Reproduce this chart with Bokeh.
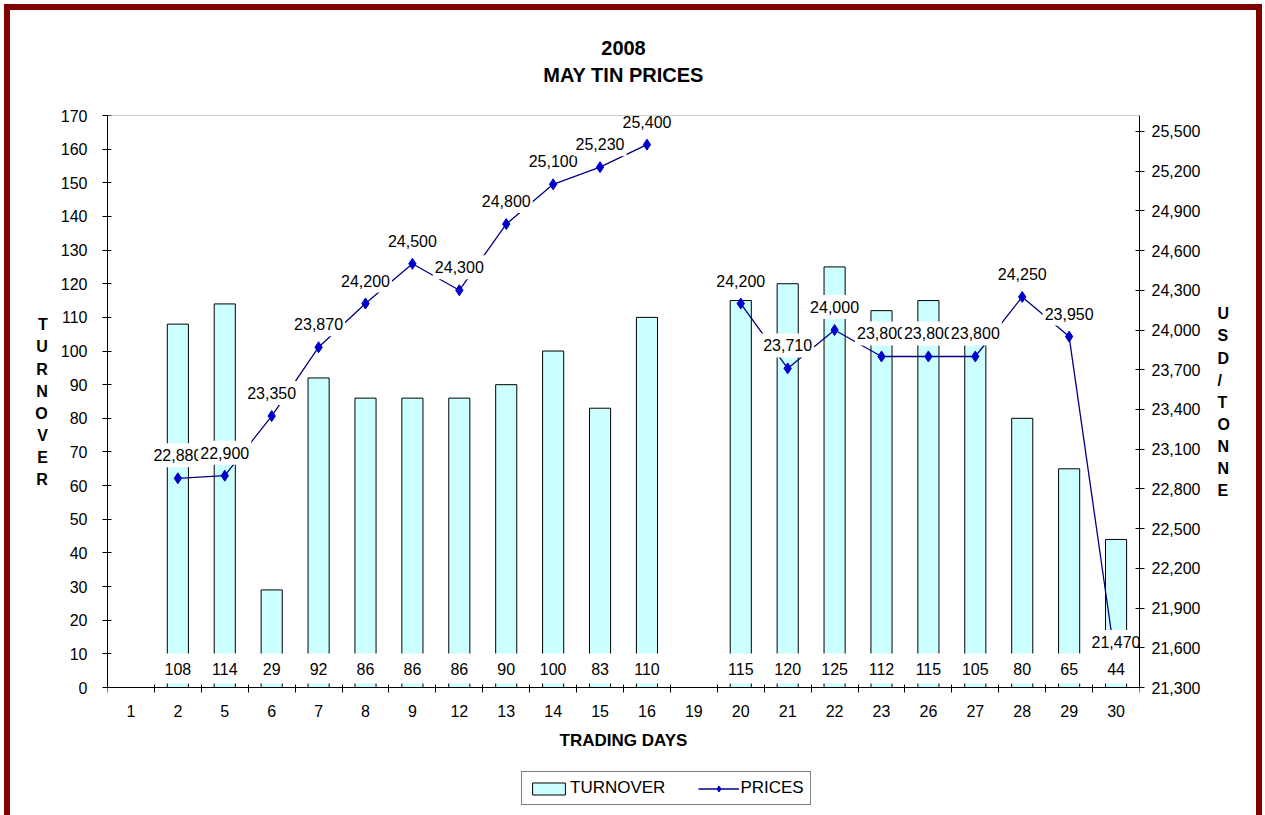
import math
from bokeh.plotting import figure
from bokeh.models import (ColumnDataSource, Range1d, LinearAxis, FixedTicker,
                          NumeralTickFormatter, Legend, LegendItem, Title, Span)
from bokeh.core.properties import value
from bokeh.embed import file_html
from bokeh.resources import INLINE

nan = float("nan")

# ---- data ----
days = ["1", "2", "5", "6", "7", "8", "9", "12", "13", "14", "15", "16",
        "19", "20", "21", "22", "23", "26", "27", "28", "29", "30"]
turnover = [nan, 108, 114, 29, 92, 86, 86, 86, 90, 100, 83, 110,
            nan, 115, 120, 125, 112, 115, 105, 80, 65, 44]
prices = [nan, 22880, 22900, 23350, 23870, 24200, 24500, 24300, 24800, 25100, 25230, 25400,
          nan, 24200, 23710, 24000, 23800, 23800, 23800, 24250, 23950, 21470]
left_ticks = list(range(0, 171, 10))
right_ticks = list(range(21300, 25501, 300))
LEFT_MIN, LEFT_MAX = 0, 170
RIGHT_MIN, RIGHT_MAX = 21300, 25620
left_title = "TURNOVER"
right_title = "USD/TONNE"

FONT = "Liberation Sans"

# ---- layout (canvas pixels) ----
W, H = 1258, 811
F_LEFT, F_RIGHT, F_TOP = 97, 1129, 105
ZERO_PX = 677          # where the value axes start
# frame reaches the canvas bottom; the x axis is pinned at 0 and the legend
# sits below it, inside the frame
left_lo = LEFT_MIN - (H - ZERO_PX) * (LEFT_MAX - LEFT_MIN) / (ZERO_PX - F_TOP)
right_lo = RIGHT_MIN - (H - ZERO_PX) * (RIGHT_MAX - RIGHT_MIN) / (ZERO_PX - F_TOP)
# blank trailing lines lift the stacked axis titles to the middle of the value axis
LIFT = "\n" * 6

x = list(range(1, len(days) + 1))

bar_src = ColumnDataSource(dict(
    x=[xi for xi, t in zip(x, turnover) if not math.isnan(t)],
    top=[t for t in turnover if not math.isnan(t)],
    lab=[str(int(t)) for t in turnover if not math.isnan(t)],
    zero=[LEFT_MIN for t in turnover if not math.isnan(t)],
))
price_line_src = ColumnDataSource(dict(x=x, y=prices))
price_pts_src = ColumnDataSource(dict(
    x=[xi for xi, v in zip(x, prices) if not math.isnan(v)],
    y=[v for v in prices if not math.isnan(v)],
    lab=["{:,}".format(int(v)) for v in prices if not math.isnan(v)],
))

p = figure(width=W, height=H, output_backend="svg", toolbar_location=None,
           title=None,
           x_range=Range1d(0.5, len(days) + 0.5),
           y_range=Range1d(left_lo, LEFT_MAX),
           min_border_left=F_LEFT, min_border_right=W - F_RIGHT,
           min_border_top=F_TOP, min_border_bottom=0,
           background_fill_color="white", border_fill_color="white")
p.extra_y_ranges = {"price": Range1d(right_lo, RIGHT_MAX)}
p.xgrid.visible = False
p.ygrid.visible = False
p.outline_line_color = None
p.styles = {"border-top": "6px solid #800000",
            "border-left": "6px solid #800000",
            "border-right": "6px solid #800000",
            "margin-left": "4px", "margin-top": "4px",
            "overflow": "hidden"}

# top border of the plot area
p.add_layout(Span(location=LEFT_MAX, dimension="width",
                  line_color="#A0A0A0", line_width=1))

# titles (a blank spacer panel keeps the two title lines close together)
spacer = Title(text=" ", align="center", standoff=0,
               text_font=FONT, text_font_size="20px")
p.add_layout(spacer, "above")
t1 = Title(text="MAY TIN PRICES", align="center", vertical_align="top",
           standoff=8, text_font=FONT, text_font_size="20px",
           text_font_style="bold", text_color="black")
p.add_layout(t1, "above")
t2 = Title(text="2008", align="center", vertical_align="bottom", standoff=10,
           text_font=FONT, text_font_size="20px", text_font_style="bold",
           text_color="black")
p.add_layout(t2, "above")

# bars
bars = p.vbar(x="x", top="top", bottom=LEFT_MIN, width=0.45, source=bar_src,
              fill_color="#CCFFFF", line_color="black", line_width=1)

# price line + markers
pline = p.line(x="x", y="y", source=price_line_src, y_range_name="price",
               line_color="#000080", line_width=1.3)
pmark = p.scatter(x="x", y="y", source=price_pts_src, y_range_name="price",
                  marker="diamond", size=11, fill_color="#0000CC",
                  line_color="#0000CC")

# price labels
p.text(x="x", y="y", text="lab", source=price_pts_src, y_range_name="price",
       y_offset=-23, text_align="center", text_baseline="middle",
       text_font=value(FONT), text_font_size="16px", text_color="black",
       background_fill_color="white", border_line_color=None,
       padding=dict(x=2, y=6))

# bar value labels
p.text(x="x", y="zero", text="lab", source=bar_src,
       y_offset=-19, text_align="center", text_baseline="middle",
       text_font=value(FONT), text_font_size="16px", text_color="black",
       background_fill_color="white", border_line_color=None,
       padding=dict(x=3, y=9))

# x axis, pinned at the zero line
xa = p.xaxis[0]
xa.fixed_location = LEFT_MIN
xa.ticker = FixedTicker(ticks=x, minor_ticks=[xi - 0.5 for xi in x] + [x[-1] + 0.5])
xa.major_label_overrides = {xi: d for xi, d in zip(x, days)}
xa.major_tick_line_color = None
xa.major_tick_in = 0
xa.major_tick_out = 0
xa.minor_tick_line_color = "black"
xa.minor_tick_in = 3
xa.minor_tick_out = 5
xa.major_label_standoff = 12
xa.major_label_text_font = FONT
xa.major_label_text_font_size = "16px"
xa.major_label_text_color = "black"
xa.axis_line_color = "black"
xa.axis_label = "TRADING DAYS"
xa.axis_label_text_font = FONT
xa.axis_label_text_font_size = "17px"
xa.axis_label_text_font_style = "bold"
xa.axis_label_text_color = "black"
xa.axis_label_standoff = 11

# left axis
ya = p.yaxis[0]
ya.bounds = (LEFT_MIN, LEFT_MAX)
ya.ticker = FixedTicker(ticks=left_ticks, minor_ticks=[])
ya.major_tick_in = 4
ya.major_tick_out = 5
ya.major_tick_line_color = "black"
ya.axis_line_color = "black"
ya.major_label_standoff = 15
ya.major_label_text_font = FONT
ya.major_label_text_font_size = "16px"
ya.major_label_text_color = "black"
ya.axis_label = "\n".join(left_title) + LIFT
ya.axis_label_orientation = "horizontal"
ya.axis_label_text_font = FONT
ya.axis_label_text_font_size = "16px"
ya.axis_label_text_font_style = "bold"
ya.axis_label_text_color = "black"
ya.axis_label_text_line_height = 1.3
ya.axis_label_standoff = 10

# right axis
ra = LinearAxis(y_range_name="price", bounds=(RIGHT_MIN, RIGHT_MAX),
                ticker=FixedTicker(ticks=right_ticks, minor_ticks=[]),
                formatter=NumeralTickFormatter(format="0,0"))
ra.major_tick_in = 4
ra.major_tick_out = 5
ra.major_tick_line_color = "black"
ra.axis_line_color = "black"
ra.major_label_standoff = 7
ra.major_label_text_font = FONT
ra.major_label_text_font_size = "16px"
ra.major_label_text_color = "black"
ra.axis_label = "\n".join(right_title) + LIFT
ra.axis_label_orientation = "horizontal"
ra.axis_label_text_font = FONT
ra.axis_label_text_font_size = "16px"
ra.axis_label_text_font_style = "bold"
ra.axis_label_text_color = "black"
ra.axis_label_text_line_height = 1.3
ra.axis_label_standoff = 14
p.add_layout(ra, "right")

# legend (inside the frame, below the pinned x axis)
legend = Legend(items=[LegendItem(label="TURNOVER", renderers=[bars]),
                       LegendItem(label="PRICES", renderers=[pline, pmark])],
                orientation="horizontal", location=(414, 16),
                border_line_color="black", border_line_width=1,
                background_fill_color="white", background_fill_alpha=1,
                padding=6, spacing=33, margin=0, label_standoff=1,
                glyph_width=41, glyph_height=15,
                label_text_font=FONT, label_text_font_size="17px",
                label_text_color="black")
p.add_layout(legend)

open("out.html", "w").write(file_html(p, INLINE))
